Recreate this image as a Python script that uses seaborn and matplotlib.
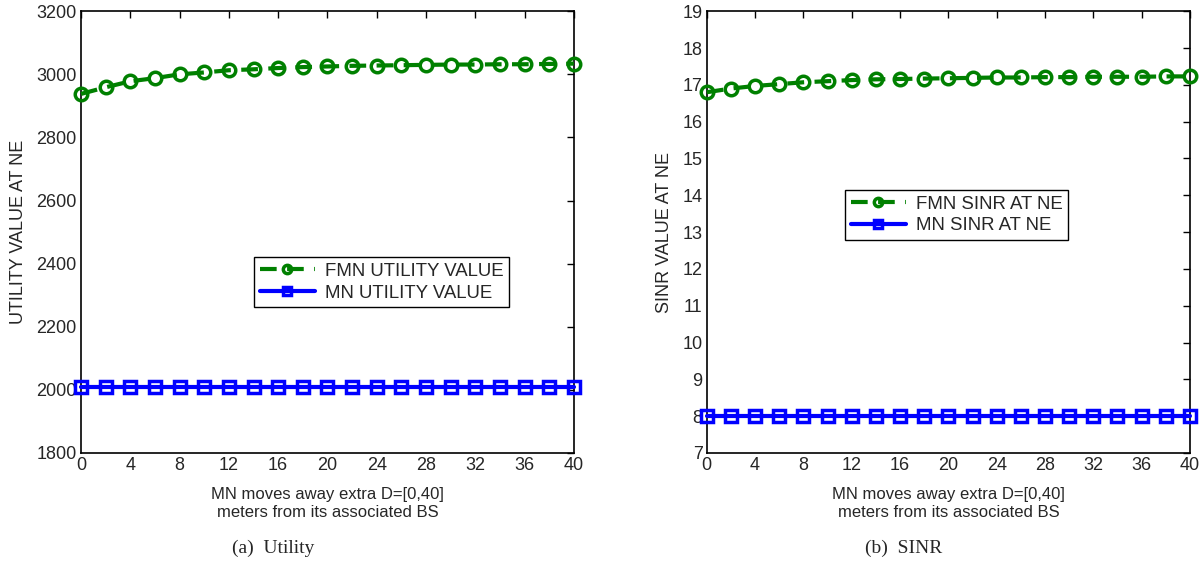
import matplotlib
matplotlib.use("Agg")
import matplotlib.pyplot as plt
import numpy as np
import pandas as pd
import seaborn as sns

sns.set_style("white")
plt.rcParams['font.family'] = ['Liberation Sans', 'DejaVu Sans']

# distance values
dist = list(range(0, 41, 2))

# utility at NE
fmn_utility = [2938, 2959, 2978, 2988, 3000, 3006, 3013, 3016, 3020, 3023, 3025,
               3027, 3028, 3029, 3030, 3031, 3031, 3032, 3032, 3033, 3034]
mn_utility = [2010] * 21

# SINR at NE
fmn_sinr = [16.8, 16.9, 16.97, 17.02, 17.07, 17.1, 17.13, 17.15, 17.16, 17.17, 17.18,
            17.19, 17.2, 17.2, 17.21, 17.21, 17.22, 17.22, 17.22, 17.23, 17.23]
mn_sinr = [8.0] * 21

xticks = list(range(0, 41, 4))
green = "#008000"
blue = "#0000FF"
xlab = "MN moves away extra D=[0,40]\nmeters from its associated BS"

fig = plt.figure(figsize=(12.02, 5.62), dpi=100)
ax1 = fig.add_axes([0.0674, 0.194, 0.410, 0.786])
ax2 = fig.add_axes([0.588, 0.194, 0.402, 0.786])


def draw(ax, fmn, mn, fmn_label, mn_label, ylim, yticks, ylabel, legpos):
    sns.lineplot(x=dist, y=fmn, ax=ax, color=green, linewidth=3, dashes=False,
                 marker="o", markersize=9, markerfacecolor="none",
                 markeredgecolor=green, markeredgewidth=2.5, label=fmn_label,
                 clip_on=False, zorder=3)
    ax.lines[-1].set_linestyle((0, (4, 2.5)))
    sns.lineplot(x=dist, y=mn, ax=ax, color=blue, linestyle="-", linewidth=3,
                 marker="s", markersize=8.5, markerfacecolor="none",
                 markeredgecolor=blue, markeredgewidth=2.5, label=mn_label,
                 clip_on=False, zorder=3)
    ax.set_xlim(0, 40)
    ax.set_ylim(*ylim)
    ax.set_xticks(xticks)
    ax.set_yticks(yticks)
    ax.tick_params(direction="in", top=True, right=True, labelsize=13, length=5,
                   width=1, color="black", pad=3)
    for s in ax.spines.values():
        s.set_color("black")
        s.set_linewidth(1.2)
        s.set_visible(True)
    ax.set_xlabel(xlab, fontsize=12, labelpad=9, linespacing=1.25)
    ax.set_ylabel(ylabel, fontsize=13, labelpad=7)
    leg = ax.legend(loc="lower left", bbox_to_anchor=legpos, fontsize=13.4,
                    handlelength=3.0, fancybox=False, framealpha=1,
                    edgecolor="black", borderpad=0.3, labelspacing=0.25,
                    handletextpad=0.5, borderaxespad=0)
    leg.get_frame().set_linewidth(1)
    for h in leg.get_lines():
        h.set_markersize(6)


draw(ax1, fmn_utility, mn_utility, "FMN UTILITY VALUE", "MN UTILITY VALUE",
     (1800, 3200), list(range(1800, 3201, 200)), "UTILITY VALUE AT NE", (0.351, 0.33))
draw(ax2, fmn_sinr, mn_sinr, "FMN SINR AT NE", "MN SINR AT NE",
     (7, 19), list(range(7, 20)), "SINR VALUE AT NE", (0.286, 0.482))

fig.text(0.227, 0.025, "(a)  Utility", family=["Liberation Serif", "DejaVu Serif"],
         fontsize=14, ha="center", va="center")
fig.text(0.752, 0.025, "(b)  SINR", family=["Liberation Serif", "DejaVu Serif"],
         fontsize=14, ha="center", va="center")

fig.savefig("out.png", dpi=100)
